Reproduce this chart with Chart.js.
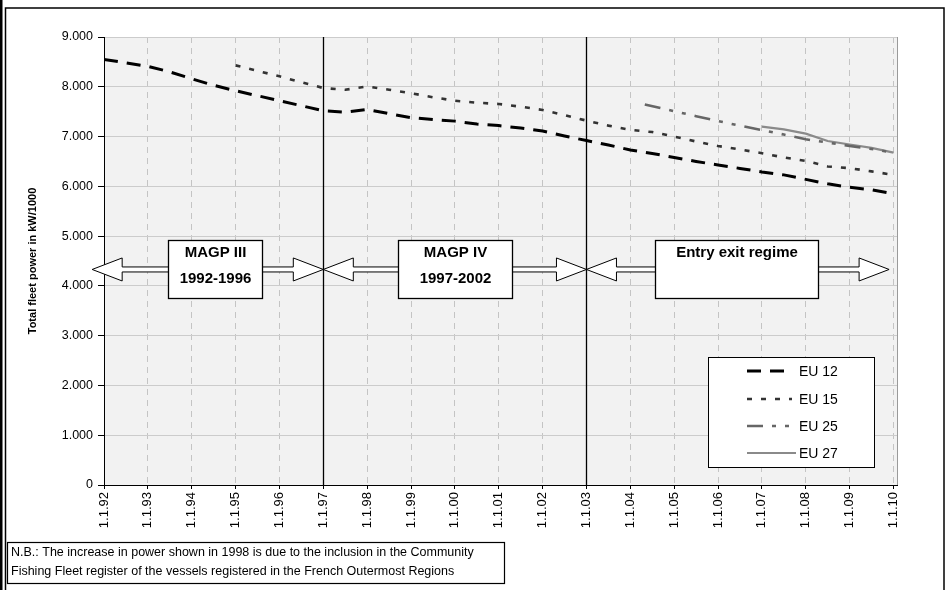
<!DOCTYPE html>
<html>
<head>
<meta charset="utf-8">
<title>Total fleet power</title>
<script src="https://cdn.jsdelivr.net/npm/chart.js@4.4.1/dist/chart.umd.min.js"></script>
<style>
  html, body { margin: 0; padding: 0; background: #fff; }
  canvas { display: block; }
</style>
</head>
<body>
<canvas id="fleet" width="946" height="590"></canvas>
<script>
// Reference dates (1 January / 1 July of each year, as decimal years)
const halfYears = [
  1992, 1992.5, 1993, 1993.5, 1994, 1994.5, 1995, 1995.5, 1996, 1996.5,
  1997, 1997.5, 1998, 1998.5, 1999, 1999.5, 2000, 2000.5, 2001, 2001.5,
  2002, 2002.5, 2003, 2003.5, 2004, 2004.5, 2005, 2005.5, 2006, 2006.5,
  2007, 2007.5, 2008, 2008.5, 2009, 2009.5, 2010
];

// Total fleet power, kW/1000
const eu12 = [
  8550, 8480, 8410, 8300, 8160, 8030, 7920, 7820, 7720, 7620,
  7520, 7490, 7545, 7460, 7380, 7340, 7310, 7250, 7220, 7170,
  7110, 7010, 6920, 6830, 6730, 6660, 6580, 6500, 6430, 6360,
  6290, 6230, 6140, 6050, 5980, 5930, 5850
];
const eu15 = [
  null, null, null, null, null, null, 8430, 8320, 8210, 8090,
  7975, 7940, 8005, 7940, 7870, 7790, 7720, 7680, 7655, 7600,
  7535, 7430, 7320, 7220, 7135, 7090, 7000, 6900, 6810, 6740,
  6666, 6580, 6510, 6400, 6365, 6300, 6230
];

const eu25Dates = [2004.33, 2005, 2005.5, 2006, 2006.5, 2007, 2007.5, 2008, 2008.5, 2009, 2009.5, 2010];
const eu25 = [7645, 7510, 7410, 7310, 7220, 7130, 7040, 6945, 6880, 6810, 6750, 6676];

const eu27Dates = [2007, 2007.5, 2008, 2008.5, 2009, 2009.5, 2010];
const eu27 = [7200, 7145, 7058, 6910, 6840, 6773, 6676];

// Axis ticks
const tickYears = [1992, 1993, 1994, 1995, 1996, 1997, 1998, 1999, 2000, 2001,
                   2002, 2003, 2004, 2005, 2006, 2007, 2008, 2009, 2010];
const tickLabels = ['1.1.92', '1.1.93', '1.1.94', '1.1.95', '1.1.96', '1.1.97', '1.1.98',
                    '1.1.99', '1.1.00', '1.1.01', '1.1.02', '1.1.03', '1.1.04', '1.1.05',
                    '1.1.06', '1.1.07', '1.1.08', '1.1.09', '1.1.10'];

// Policy periods shown as double arrows with a label box
const periods = [
  { from: 1991.73, to: 1997, boxFrom: 1993.46, boxTo: 1995.6, lines: ['MAGP III', '1992-1996'] },
  { from: 1997, to: 2003, boxFrom: 1998.71, boxTo: 2001.31, lines: ['MAGP IV', '1997-2002'] },
  { from: 2003, to: 2009.9, boxFrom: 2004.57, boxTo: 2008.29, lines: ['Entry exit regime'] }
];
const periodBreaks = [1997, 2003];
const arrowLevel = 4330;

const noteLines = [
  'N.B.: The increase in power shown in 1998 is due to the inclusion in the Community',
  'Fishing Fleet register of the vessels registered in the French Outermost Regions'
];

const pts = (xs, ys) => xs.map((x, i) => ({ x: x, y: ys[i] }));

Chart.defaults.font.family = '"Liberation Sans", Arial, sans-serif';
Chart.defaults.color = '#000';

const frameAndDecor = {
  id: 'frameAndDecor',
  beforeDraw(chart) {
    const { ctx, chartArea: a } = chart;
    ctx.save();
    ctx.fillStyle = '#fff';
    ctx.fillRect(0, 0, chart.width, chart.height);
    ctx.fillStyle = '#f2f2f2';
    ctx.fillRect(a.left, a.top, a.right - a.left, a.bottom - a.top);
    ctx.restore();
  },
  beforeDatasetsDraw(chart) {
    const { ctx, chartArea: a, scales: { x } } = chart;
    ctx.save();
    // right edge of the plot area
    ctx.strokeStyle = '#9a9a9a';
    ctx.lineWidth = 1;
    ctx.beginPath();
    ctx.moveTo(a.right + 0.5, a.top);
    ctx.lineTo(a.right + 0.5, a.bottom);
    ctx.stroke();
    // period boundaries
    ctx.strokeStyle = '#000';
    ctx.lineWidth = 1.3;
    periodBreaks.forEach(v => {
      const px = Math.round(x.getPixelForValue(v)) + 0.5;
      ctx.beginPath();
      ctx.moveTo(px, a.top);
      ctx.lineTo(px, a.bottom);
      ctx.stroke();
    });
    ctx.restore();
  },
  afterDatasetsDraw(chart) {
    const { ctx, scales: { x, y } } = chart;
    const cy = y.getPixelForValue(arrowLevel);
    const headLen = 30, headH = 11.5, shaftH = 2.5;
    ctx.save();
    periods.forEach(p => {
      const x1 = x.getPixelForValue(p.from);
      const x2 = x.getPixelForValue(p.to);
      ctx.beginPath();
      ctx.moveTo(x1, cy);
      ctx.lineTo(x1 + headLen, cy - headH);
      ctx.lineTo(x1 + headLen, cy - shaftH);
      ctx.lineTo(x2 - headLen, cy - shaftH);
      ctx.lineTo(x2 - headLen, cy - headH);
      ctx.lineTo(x2, cy);
      ctx.lineTo(x2 - headLen, cy + headH);
      ctx.lineTo(x2 - headLen, cy + shaftH);
      ctx.lineTo(x1 + headLen, cy + shaftH);
      ctx.lineTo(x1 + headLen, cy + headH);
      ctx.closePath();
      ctx.fillStyle = '#fff';
      ctx.fill();
      ctx.strokeStyle = '#000';
      ctx.lineWidth = 1;
      ctx.stroke();

      const bx1 = Math.round(x.getPixelForValue(p.boxFrom)) + 0.5;
      const bx2 = Math.round(x.getPixelForValue(p.boxTo)) + 0.5;
      const by1 = Math.round(cy - 29) + 0.5, by2 = Math.round(cy + 29) + 0.5;
      ctx.fillStyle = '#fff';
      ctx.fillRect(bx1, by1, bx2 - bx1, by2 - by1);
      ctx.lineWidth = 1.3;
      ctx.strokeRect(bx1, by1, bx2 - bx1, by2 - by1);

      ctx.fillStyle = '#000';
      ctx.font = 'bold 15px "Liberation Sans", Arial, sans-serif';
      ctx.textAlign = 'center';
      ctx.textBaseline = 'middle';
      const mx = (bx1 + bx2) / 2;
      p.lines.forEach((t, i) => ctx.fillText(t, mx, by1 + 12 + i * 26));
    });

    // legend
    const lx = 708.5, ly = 357.5, lw = 166, lh = 110;
    ctx.fillStyle = '#fff';
    ctx.fillRect(lx, ly, lw, lh);
    ctx.strokeStyle = '#000';
    ctx.lineWidth = 1;
    ctx.strokeRect(lx, ly, lw, lh);
    const rows = [371, 399, 426, 453];
    chart.data.datasets.forEach((ds, i) => {
      const ry = rows[i];
      ctx.save();
      ctx.strokeStyle = ds.borderColor;
      ctx.lineWidth = ds.borderWidth;
      ctx.setLineDash(ds.borderDash || []);
      ctx.beginPath();
      ctx.moveTo(747, ry);
      ctx.lineTo(i === 3 ? 796 : 792, ry);
      ctx.stroke();
      ctx.restore();
      ctx.fillStyle = '#000';
      ctx.font = '14px "Liberation Sans", Arial, sans-serif';
      ctx.textAlign = 'left';
      ctx.textBaseline = 'middle';
      ctx.fillText(ds.label, 799, ry + 1);
    });
    ctx.restore();
  },
  afterDraw(chart) {
    const { ctx } = chart;
    ctx.save();
    // outer frame
    ctx.fillStyle = '#000';
    ctx.fillRect(0, 0, 2.5, chart.height);
    ctx.strokeStyle = '#000';
    ctx.lineWidth = 1.5;
    ctx.strokeRect(5.5, 8, 938.5, chart.height + 20);
    // note box
    ctx.fillStyle = '#fff';
    ctx.fillRect(7.5, 542.5, 497, 41);
    ctx.lineWidth = 1.2;
    ctx.strokeRect(7.5, 542.5, 497, 41);
    ctx.fillStyle = '#000';
    ctx.font = '12.5px "Liberation Sans Narrow", "Arial Narrow", "Liberation Sans", sans-serif';
    ctx.textAlign = 'left';
    ctx.textBaseline = 'middle';
    noteLines.forEach((t, i) => ctx.fillText(t, 11, 553 + i * 19));
    ctx.restore();
  }
};

new Chart(document.getElementById('fleet'), {
  type: 'line',
  data: {
    datasets: [
      { label: 'EU 12', data: pts(halfYears, eu12), borderColor: '#000', borderWidth: 3, borderDash: [14, 9] },
      { label: 'EU 15', data: pts(halfYears, eu15), borderColor: '#333', borderWidth: 2.6, borderDash: [5, 9] },
      { label: 'EU 25', data: pts(eu25Dates, eu25), borderColor: '#666', borderWidth: 2.6, borderDash: [16, 9, 4, 9, 4, 9] },
      { label: 'EU 27', data: pts(eu27Dates, eu27), borderColor: '#8a8a8a', borderWidth: 2.2, borderDash: [] }
    ].map(d => Object.assign(d, { pointRadius: 0, tension: 0, fill: false, spanGaps: false, borderCapStyle: 'butt' }))
  },
  options: {
    responsive: false,
    animation: false,
    layout: { padding: { left: 0, top: 37, right: 49, bottom: 0 } },
    plugins: { legend: { display: false }, tooltip: { enabled: false } },
    scales: {
      x: {
        type: 'linear',
        min: 1992,
        max: 2010.08,
        afterBuildTicks: s => { s.ticks = tickYears.map(v => ({ value: v })); },
        afterFit: s => { s.height = 105; },
        ticks: {
          autoSkip: false,
          minRotation: 90,
          maxRotation: 90,
          padding: 3,
          font: { size: 13 },
          color: '#000',
          callback: v => tickLabels[tickYears.indexOf(v)]
        },
        grid: { color: '#c4c4c4', lineWidth: 1, tickLength: 4, tickColor: '#000', tickBorderDash: [] },
        border: { display: true, color: '#000', width: 1, dash: [6, 5] }
      },
      y: {
        min: 0,
        max: 9000,
        afterFit: s => { s.width = 104; },
        ticks: {
          stepSize: 1000,
          padding: 5,
          font: { size: 12.5 },
          color: '#000',
          callback: v => v === 0 ? '0' : (v / 1000) + '.000'
        },
        grid: { color: '#cccccc', lineWidth: 1, tickLength: 6, tickColor: '#000' },
        border: { display: true, color: '#000', width: 1 },
        title: {
          display: true,
          text: 'Total fleet power in kW/1000',
          font: { size: 11, weight: 'bold' },
          color: '#000',
          padding: { top: 26, bottom: 0 }
        }
      }
    }
  },
  plugins: [frameAndDecor]
});
</script>
</body>
</html>
